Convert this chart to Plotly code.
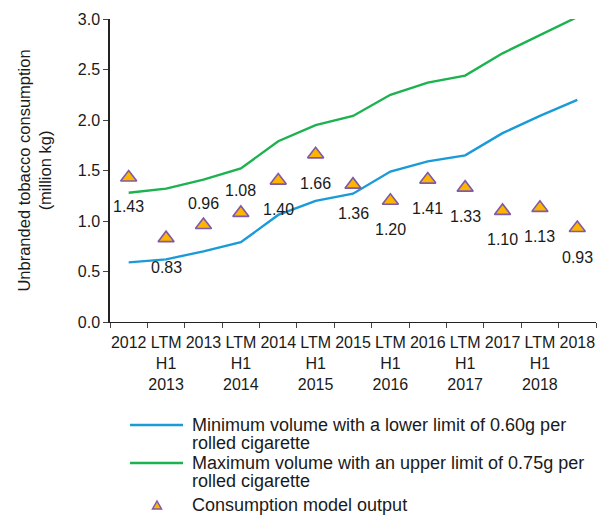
import plotly.graph_objects as go

categories = ["2012", "LTM<br>H1<br>2013", "2013", "LTM<br>H1<br>2014", "2014", "LTM<br>H1<br>2015",
              "2015", "LTM<br>H1<br>2016", "2016", "LTM<br>H1<br>2017", "2017", "LTM<br>H1<br>2018", "2018"]
min_volume = [0.59, 0.62, 0.70, 0.79, 1.06, 1.20, 1.27, 1.49, 1.59, 1.65, 1.87, 2.04, 2.20]
max_volume = [1.28, 1.32, 1.41, 1.52, 1.79, 1.95, 2.04, 2.25, 2.37, 2.44, 2.66, 2.84, 3.02]
model_output = [1.43, 0.83, 0.96, 1.08, 1.40, 1.66, 1.36, 1.20, 1.41, 1.33, 1.10, 1.13, 0.93]
label_above = [False, False, True, True, False, False, False, False, False, False, False, False, False]
series_names = ["Minimum volume with a lower limit of 0.60g per rolled cigarette",
                "Maximum volume with an upper limit of 0.75g per rolled cigarette",
                "Consumption model output"]
legend_lines = [["Minimum volume with a lower limit of 0.60g per", "rolled cigarette"],
                ["Maximum volume with an upper limit of 0.75g per", "rolled cigarette"],
                ["Consumption model output"]]

FONT = "Liberation Sans, Arial, sans-serif"
BLUE = "#1b9ad8"
GREEN = "#1bb24f"
ORANGE = "#FFB400"
PURPLE = "#7E5BA6"
TXT = "#1a1a1a"

W, H = 600, 515
ML, MR, MT, MB = 110, 4, 19, 193
PW, PH = W - ML - MR, H - MT - MB


def px_to_paper(px, py):
    return (px - ML) / PW, (H - MB - py) / PH


fig = go.Figure()
fig.add_trace(go.Scatter(x=categories, y=min_volume, mode="lines",
                         line=dict(color=BLUE, width=2.4), name=series_names[0]))
fig.add_trace(go.Scatter(x=categories, y=max_volume, mode="lines",
                         line=dict(color=GREEN, width=2.4), name=series_names[1]))
fig.add_trace(go.Scatter(x=categories, y=model_output, mode="markers",
                         marker=dict(symbol="triangle-up", size=14, color=ORANGE,
                                     line=dict(color=PURPLE, width=1.6)),
                         name=series_names[2]))

for i, (v, above) in enumerate(zip(model_output, label_above)):
    fig.add_annotation(x=i, y=v, xref="x", yref="y", text=f"{v:.2f}", showarrow=False,
                       yshift=22 if above else -29,
                       font=dict(family=FONT, size=16, color=TXT))

# legend drawn below the plot
legend_rows = [[425, 442.5], [463, 480.5], [505]]
text_x, _ = px_to_paper(190, 0)
for lines, rows in zip(legend_lines, legend_rows):
    for t, ry in zip(lines, rows):
        _, ty = px_to_paper(0, ry)
        fig.add_annotation(x=text_x, y=ty, xref="paper", yref="paper", text=t,
                           showarrow=False, xanchor="left", yanchor="middle",
                           font=dict(family=FONT, size=18, color=TXT))
for color, ry in zip([BLUE, GREEN], [425, 463]):
    x0, y0 = px_to_paper(130, ry)
    x1, _ = px_to_paper(183, ry)
    fig.add_shape(type="line", xref="paper", yref="paper", x0=x0, x1=x1, y0=y0, y1=y0,
                  line=dict(color=color, width=2.4))
tx, ty_top = px_to_paper(157, 501)
txl, ty_bot = px_to_paper(152.5, 509)
txr, _ = px_to_paper(161.5, 509)
fig.add_shape(type="path", xref="paper", yref="paper",
              path=f"M {tx},{ty_top} L {txl},{ty_bot} L {txr},{ty_bot} Z",
              fillcolor=ORANGE, line=dict(color=PURPLE, width=1.5))

fig.update_layout(
    width=W, height=H,
    margin=dict(l=ML, r=MR, t=MT, b=MB, autoexpand=False),
    paper_bgcolor="white", plot_bgcolor="white",
    font=dict(family=FONT, size=16, color=TXT),
    showlegend=False,
    xaxis=dict(type="category", showline=True, linecolor="#222", linewidth=1.2,
               ticks="outside", tickson="boundaries", ticklen=5, tickcolor="#444",
               showgrid=False, tickangle=0, tickfont=dict(size=16), range=[-0.5, 12.5],
               ticklabelstandoff=6, automargin=False),
    yaxis=dict(range=[0, 3.0], dtick=0.5, tickformat=".1f", showline=True,
               linecolor="#222", linewidth=1.5, ticks="outside", ticklen=5, tickcolor="#444",
               showgrid=False, zeroline=False, tickfont=dict(size=16), automargin=False,
               title=dict(text="Unbranded tobacco consumption<br>(million kg)",
                          font=dict(size=16.5), standoff=22)),
)

fig.write_html("out.html", config={"displayModeBar": False},
               post_script="document.body.style.margin='0';")
